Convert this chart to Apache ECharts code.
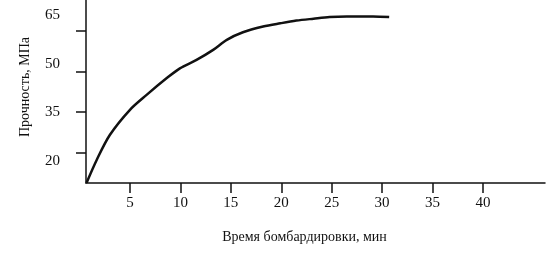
<!DOCTYPE html>
<html><head><meta charset="utf-8">
<script src="https://cdn.jsdelivr.net/npm/echarts@6/dist/echarts.min.js"></script>
<style>html,body{margin:0;padding:0;background:#fff}#c{width:553px;height:253px}</style>
</head><body><div id="c"></div>
<script>
// Time of bombardment, min
const timeMin = [0.7, 1.7, 3.0, 5.0, 6.65, 8.65, 9.95, 11.6, 13.25, 14.6, 16.2, 18.2, 19.9, 21.5, 23.2, 24.8, 26.5, 29.1, 30.7];
// Strength values (in the figure's tick scale)
const strength = [9.0, 17.4, 26.6, 35.9, 41.4, 47.6, 51.2, 54.3, 58.0, 61.7, 64.5, 66.6, 67.8, 68.8, 69.5, 70.1, 70.3, 70.3, 70.1];
const xTicks = [5, 10, 15, 20, 25, 30, 35, 40];
const yTicks = [20, 35, 50, 65];
const yTickLabels = ['20', '35', '50', '65'];
const xName = 'Время бомбардировки, мин';
const yName = 'Прочность, МПа';

const font = 'Liberation Serif';
const ink = '#111';
const chart = echarts.init(document.getElementById('c'), null, {renderer: 'canvas'});
const labelStyle = {
  l20: {padding: [16, 0, 0, 0]},
  l35: {padding: [0, 0, 0, 0]},
  l50: {padding: [0, 0, 16, 0]},
  l65: {padding: [0, 0, 32, 0]}
};
chart.setOption({
  animation: false,
  grid: {left: 86, right: 8, top: 0, bottom: 70, containLabel: false},
  xAxis: {
    type: 'value', min: 0.64, max: 46.15,
    name: xName, nameLocation: 'middle', nameGap: 47,
    nameTextStyle: {fontFamily: font, fontSize: 14, color: ink, padding: [0, 22, 0, 0]},
    axisLine: {show: true, lineStyle: {color: ink, width: 1.5}},
    axisTick: {show: true, customValues: xTicks, length: 10, lineStyle: {color: ink, width: 1.5}},
    axisLabel: {customValues: xTicks, margin: 13, fontFamily: font, fontSize: 15, color: ink,
      formatter: v => String(v)},
    splitLine: {show: false}
  },
  yAxis: {
    type: 'value', min: 8.9, max: 76.4,
    name: yName, nameLocation: 'middle', nameGap: 54,
    nameTextStyle: {fontFamily: font, fontSize: 14, color: ink, padding: [0, 0, 0, 9]},
    axisLine: {show: true, lineStyle: {color: ink, width: 1.5}},
    axisTick: {show: true, customValues: yTicks, length: 10, lineStyle: {color: ink, width: 1.5}},
    axisLabel: {customValues: yTicks, margin: 26, fontFamily: font, fontSize: 15, color: ink,
      formatter: v => { const i = yTicks.indexOf(v); return '{l' + v + '|' + yTickLabels[i] + '}'; },
      rich: labelStyle},
    splitLine: {show: false}
  },
  series: [{
    type: 'line', data: timeMin.map((t, i) => [t, strength[i]]),
    smooth: 0.3, showSymbol: false, symbol: 'none',
    lineStyle: {color: ink, width: 2.5}
  }]
});
</script></body></html>
